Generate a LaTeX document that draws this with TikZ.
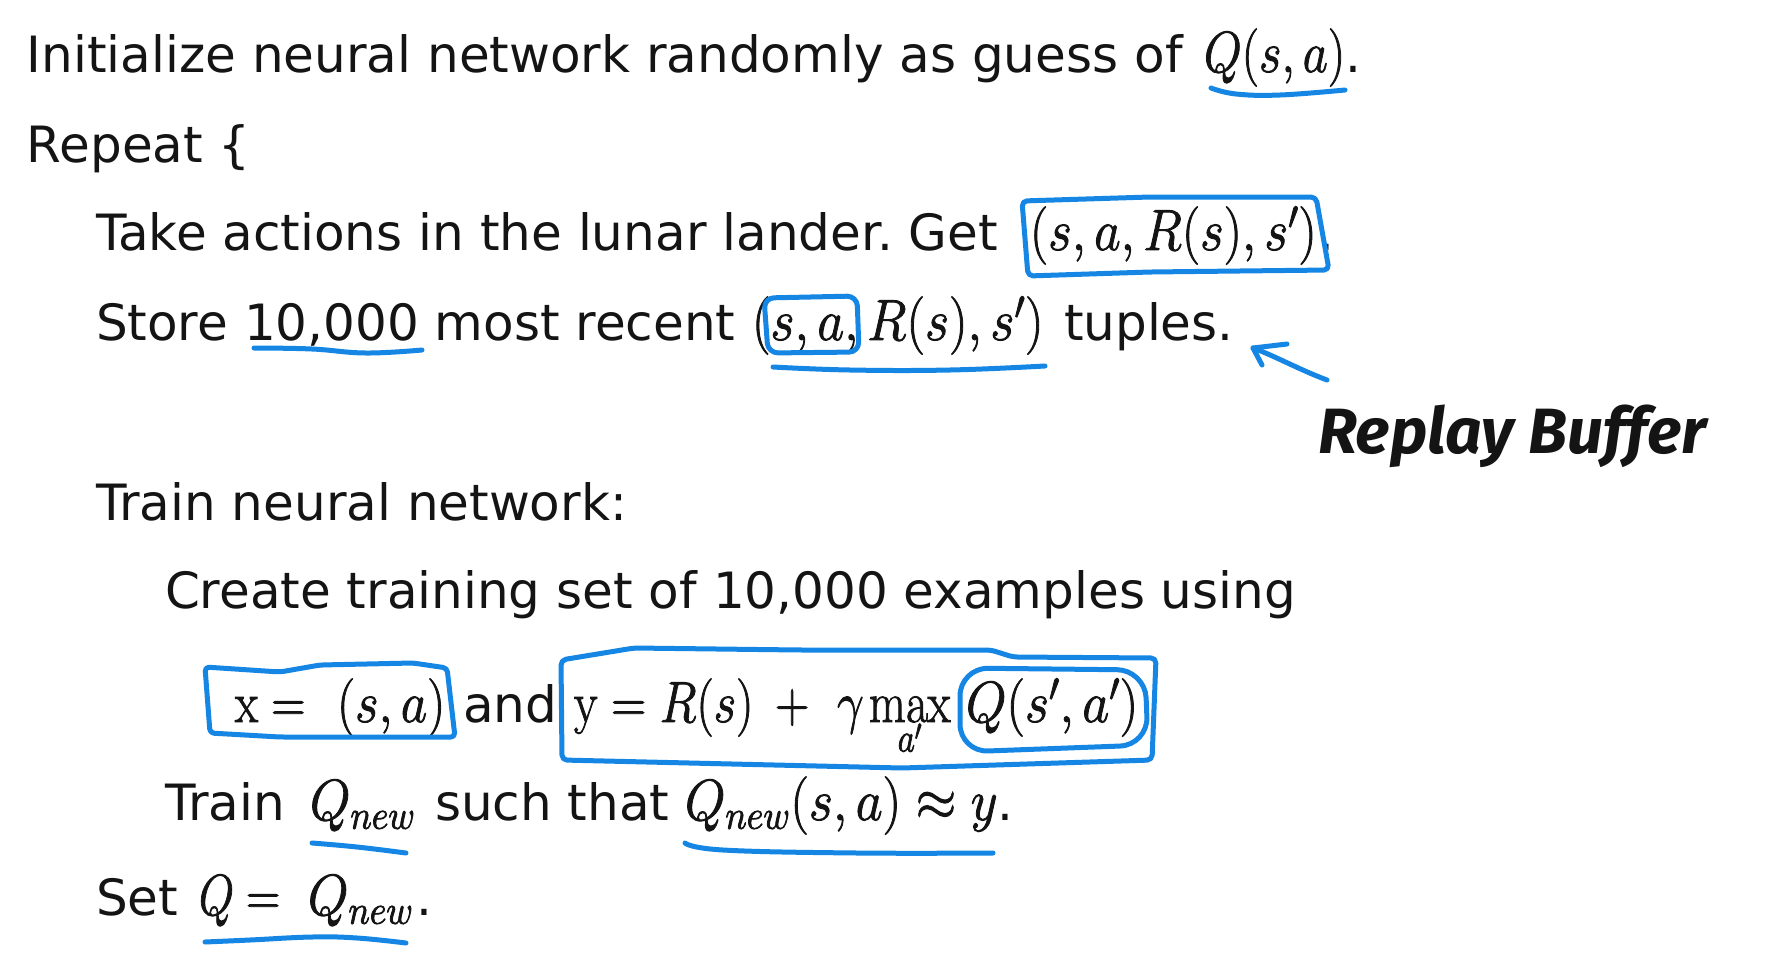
\RequirePackage{fix-cm}
\documentclass[tikz,border=0pt]{standalone}
\usepackage{graphicx}
\usepackage[no-math]{fontspec}
\setmainfont{DejaVu Sans}
\newfontfamily\handfont{Fira Sans}
\definecolor{annot}{RGB}{22,134,229}
\definecolor{ink}{RGB}{20,20,20}
\newcommand\mth[2][0.82]{\special{pdf:literal direct 2 Tr 0.9 w}\scalebox{#1}[1]{\fontsize{58}{60}\selectfont$#2$}\special{pdf:literal direct 0 Tr}}
\frenchspacing
\begin{document}
\begin{tikzpicture}[x=1pt,y=-1pt,
  txt/.style={anchor=base west, inner sep=0pt, outer sep=0pt, text=ink, font=\fontsize{50}{60}\selectfont},
  handtext/.style={anchor=base west, inner sep=0pt, outer sep=0pt, text=ink, font=\handfont\bfseries\itshape\fontsize{64}{70}\selectfont},
  hand/.style={draw=annot, line width=5pt, line cap=round, line join=round}]
\useasboundingbox[fill=white] (0,0) rectangle (1768,961);
% line 1
\node[txt] (l1) at (27,72) {Initialize neural network randomly as guess of};
\node[txt] (q1) at (1204,72) {\mth[0.84]{Q(s,a)}};
\node[txt] (d1) at (q1.base east) {.};
% line 2
\node[txt] (l2) at (27,162) {Repeat \{};
% line 3
\node[txt] (l3) at (96,250) {Take actions in the lunar lander. Get};
\node[txt] (t3) at (1030,250) {\mth[0.885]{(s,a,R(s),s')}};
\node[txt] (d3) at ([xshift=2pt]t3.base east) {.};
% line 4
\node[txt] (l4a) at (96,340) {Store 10,000 most recent};
\node[txt] (t4) at (752,340) {\mth[0.9]{(s,a,R(s),s')}};
\node[txt] (l4c) at (1064,340) {tuples.};
% replay buffer
\node[handtext] (rb) at (1318,453) {Replay Buffer};
% training
\node[txt] (l6) at (96,520) {Train neural network:};
\node[txt] (l7) at (165,608) {Create training set of 10,000 examples using};
\node[txt] (x1) at (235,722) {\mth{\mathrm{x} =}};
\node[txt] (x2) at (337,722) {\mth[0.88]{(s,a)}};
\node[txt] (and) at (463,722) {and};
\node[txt] (y1) at (574,722) {\mth[0.84]{\mathrm{y} = R(s)}};
\node[txt] (pl) at (775,722) {\mth{+}};
\node[txt] (g) at (837,722) {\mth{\gamma}};
\node[txt] (mx) at (869,722) {\mth{\max\limits_{a'}}};
\node[txt] (qq) at (966,722) {\mth[0.9]{Q(s',a')}};
\node[txt] (l9a) at (165,820) {Train};
\node[txt] (qn1) at (310,820) {\mth[0.9]{Q_{new}}};
\node[txt] (l9b) at (435,820) {such that};
\node[txt] (qn2) at (685,820) {\mth[0.9]{Q_{new}(s,a) \approx y}};
\node[txt] (d9) at (qn2.base east) {.};
\node[txt] (l10) at (96,915) {Set};
\node[txt] (q10) at (199,915) {\mth[0.78]{Q}};
\node[txt] (eq10) at (246,915) {\mth{=}};
\node[txt] (qn3) at (308,915) {\mth[0.9]{Q_{new}}};
\node[txt] (d10) at ([xshift=3pt]qn3.base east) {.};
% annotations
\draw[hand] plot[smooth,tension=.7] coordinates {(1211,88) (1236,94) (1280,95) (1345,90)};
\draw[hand, rounded corners=5pt] (1022,201) -- (1150,197) -- (1316,197) -- (1329,270) -- (1150,272) -- (1028,276) -- cycle;
\draw[hand] plot[smooth,tension=.7] coordinates {(254,348) (312,349) (366,353) (422,350)};
\draw[hand, rounded corners=10pt] (764,298) -- (857,296) -- (859,352) -- (768,353) -- cycle;
\draw[hand] plot[smooth,tension=.7] coordinates {(773,367) (850,370) (950,370) (1045,366)};
\coordinate (atip) at (1253,348);
\coordinate (atail) at (1327,380);
\draw[hand] (atail) .. controls (1300,370) and (1275,356) .. (atip);
\draw[hand] (1287,344) -- (atip) -- (1262,365);
\draw[hand, rounded corners=4pt] (205,667) -- (280,672) -- (320,665) -- (413,663) -- (447,668) -- (455,737) -- (280,737) -- (210,733) -- cycle;
\draw[hand, rounded corners=5pt] (561,660) -- (634,648) -- (800,650) -- (991,650) -- (1013,657) -- (1156,658) -- (1152,760) -- (902,768) -- (562,760) -- cycle;
\draw[hand, rounded corners=28pt] (960,668) -- (1145,670) -- (1148,745) -- (960,752) -- cycle;
\draw[hand] plot[smooth,tension=.7] coordinates {(312,843) (357,847) (406,853)};
\draw[hand] plot[smooth,tension=.7] coordinates {(685,843) (723,850) (857,853) (993,853)};
\draw[hand] plot[smooth,tension=.7] coordinates {(205,942) (250,940) (312,937) (357,938) (406,943)};
\end{tikzpicture}
\end{document}
